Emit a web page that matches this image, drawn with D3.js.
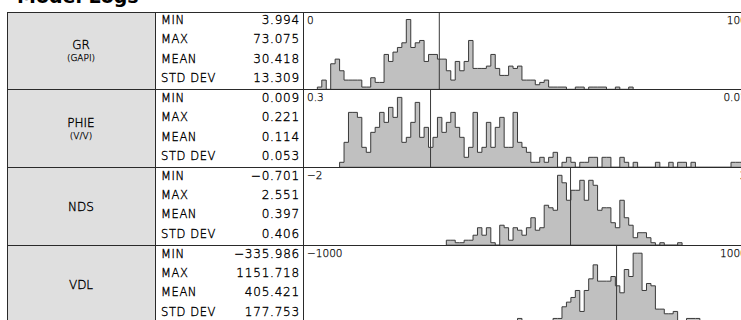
<!DOCTYPE html>
<html>
<head>
<meta charset="utf-8">
<script src="https://cdn.jsdelivr.net/npm/d3@7"></script>
<style>
  html, body { margin: 0; padding: 0; background: #fff; overflow: hidden; }
  svg { display: block; }
  text { font-family: "DejaVu Sans", "Liberation Sans", sans-serif; }
  .thin { font-weight: 200; fill: #000; stroke: #000; stroke-width: 0.35; }
</style>
</head>
<body>
<svg id="chart" width="741" height="320"></svg>
<script>
// ---- log curves and their summary statistics ----
const curveNames = ["GR", "PHIE", "NDS", "VDL"];
const curveUnits = ["(GAPI)", "(V/V)", "", ""];
const statLabels = ["MIN", "MAX", "MEAN", "STD DEV"];
const statMin  = [3.994, 0.009, -0.701, -335.986];
const statMax  = [73.075, 0.221, 2.551, 1151.718];
const statMean = [30.418, 0.114, 0.397, 405.421];
const statStd  = [13.309, 0.053, 0.406, 177.753];

// ---- histogram track scales (100 equal bins across each track) ----
const axisLeft  = [0, 0.3, -2, -1000];
const axisRight = [100, 0.01, 2, 1000];
const axisType  = ["linear", "log", "linear", "linear"];
const leftTickLabels  = ["0", "0.3", "\u22122", "\u22121000"];
const rightTickLabels = ["100", "0.01", "2", "1000"];
const binTotal = 100;

// bin counts; each list begins at the given bin index
const grBinStart = 3;
const grCounts = [1, 4, 0, 11, 13, 8, 4, 4, 4, 4, 1, 1, 5, 3, 3, 15, 12, 16, 18, 20,
  30, 18, 20, 21, 12, 15, 15, 13, 13, 8, 4, 12, 8, 12, 21, 9, 9, 9, 10, 15,
  9, 6, 6, 10, 9, 10, 4, 4, 4, 2, 3, 4, 1, 1, 1, 1, 0, 0, 1, 1,
  0, 1, 1, 1, 1, 0, 0, 1, 0, 0, 1];

const phieBinStart = 8;
const phieCounts = [1, 5, 11, 11, 10, 4, 3, 7, 8, 11, 9, 12, 10, 14, 5, 6, 9, 13, 6, 8,
  4, 6, 10, 7, 9, 11, 8, 6, 2, 4, 11, 3, 4, 9, 4, 8, 10, 4, 4, 11,
  5, 4, 3, 1, 1, 2, 1, 2, 3, 0, 1, 2, 1, 0, 1, 1, 2, 2, 0, 2,
  2, 0, 0, 2, 1, 0, 1, 0, 0, 0, 0, 1, 0, 0, 1, 0, 1, 1, 0, 1,
  0, 0, 0, 0, 0, 0, 0, 0, 1, 1, 1];

const ndsBinStart = 32;
const ndsCounts = [2, 2, 1, 1, 2, 2, 4, 7, 4, 7, 1, 0, 8, 7, 2, 7, 6, 4, 7, 11,
  6, 7, 16, 15, 14, 28, 25, 18, 22, 22, 26, 18, 26, 24, 14, 15, 15, 9, 7, 18,
  11, 8, 3, 5, 5, 3, 1, 0, 1, 0, 0, 0, 1];

const vdlBinStart = 48;
const vdlCounts = [2, 1, 1, 1, 1, 1, 1, 1, 2, 2, 7, 9, 11, 14, 5, 14, 19, 25, 18, 18,
  18, 20, 16, 13, 23, 20, 30, 30, 14, 17, 16, 6, 6, 4, 4, 5, 1, 1, 2, 2,
  2, 1];

const binStarts = [grBinStart, phieBinStart, ndsBinStart, vdlBinStart];
const binCounts = [grCounts, phieCounts, ndsCounts, vdlCounts];

// ---- layout ----
const svg = d3.select("#chart");
const tableLeft = 7, labelRight = 155, trackLeft = 304, trackRight = 748.8;
const firstRowTop = 12, rowHeight = 77.9;
const lineColor = "#2a2a2a";
const fmt = d3.format(".3f");

svg.append("text")
  .attr("x", 17).attr("y", 2.5)
  .attr("font-family", "Liberation Sans, Arial, sans-serif")
  .attr("font-weight", "bold").attr("font-size", 19)
  .text("Model Logs");

curveNames.forEach((name, r) => {
  const top = firstRowTop + r * rowHeight;
  const bottom = top + rowHeight;
  const g = svg.append("g");

  // curve-name cell
  g.append("rect")
    .attr("x", tableLeft).attr("y", top)
    .attr("width", labelRight - tableLeft).attr("height", rowHeight)
    .attr("fill", "#dfdfdf");

  const mid = (top + bottom) / 2;
  if (curveUnits[r]) {
    g.append("text").attr("class", "thin").attr("x", 81).attr("y", mid - 2)
      .attr("text-anchor", "middle").attr("font-size", 12)
      .text(name);
    g.append("text").attr("class", "thin").attr("x", 81).attr("y", mid + 10)
      .attr("text-anchor", "middle").attr("font-size", 9)
      .style("stroke-width", 0.25)
      .text(curveUnits[r]);
  } else {
    g.append("text").attr("class", "thin").attr("x", 81).attr("y", mid + 4)
      .attr("text-anchor", "middle").attr("font-size", 12)
      .text(name);
  }

  // statistics cell
  const stats = [statMin[r], statMax[r], statMean[r], statStd[r]];
  statLabels.forEach((lab, k) => {
    const y = top + 12 + k * 19.3;
    g.append("text").attr("class", "thin").attr("x", 161).attr("y", y)
      .attr("font-size", 11.5).attr("letter-spacing", 0.6)
      .text(lab);
    g.append("text").attr("class", "thin").attr("x", 300).attr("y", y)
      .attr("text-anchor", "end").attr("font-size", 12)
      .attr("letter-spacing", 0.8)
      .text(fmt(stats[k]));
  });

  // histogram track
  const x = (axisType[r] === "log" ? d3.scaleLog() : d3.scaleLinear())
    .domain([axisLeft[r], axisRight[r]])
    .range([trackLeft, trackRight]);
  const edge = i => axisType[r] === "log"
    ? Math.exp(Math.log(axisLeft[r]) + (i / binTotal) * (Math.log(axisRight[r]) - Math.log(axisLeft[r])))
    : axisLeft[r] + (i / binTotal) * (axisRight[r] - axisLeft[r]);

  const counts = binCounts[r];
  const start = binStarts[r];
  const baseline = bottom - 0.5;
  const y = d3.scaleLinear()
    .domain([0, d3.max(counts)])
    .range([baseline, top + 7.5]);

  const pts = [[x(edge(start)), baseline]];
  counts.forEach((c, j) => {
    pts.push([x(edge(start + j)), y(c)]);
    pts.push([x(edge(start + j + 1)), y(c)]);
  });
  pts.push([x(edge(start + counts.length)), baseline]);

  g.append("path")
    .attr("d", d3.line()(pts) + "Z")
    .attr("fill", "#c0c0c0")
    .attr("stroke", "#3a3a3a")
    .attr("stroke-width", 1)
    .attr("stroke-linejoin", "miter");

  // mean marker
  g.append("line")
    .attr("x1", x(statMean[r])).attr("x2", x(statMean[r]))
    .attr("y1", top).attr("y2", bottom)
    .attr("stroke", "#3a3a3a").attr("stroke-width", 1);

  // track end labels
  g.append("text").attr("class", "thin").attr("x", 307).attr("y", top + 11.5)
    .attr("font-size", 10.5).style("stroke-width", 0.25)
    .text(leftTickLabels[r]);
  g.append("text").attr("class", "thin").attr("x", trackRight - 2).attr("y", top + 11.5)
    .attr("text-anchor", "end").attr("font-size", 10.5).style("stroke-width", 0.25)
    .text(rightTickLabels[r]);
});

// table grid
const grid = svg.append("g").attr("stroke", lineColor).attr("stroke-width", 1)
  .attr("shape-rendering", "crispEdges");
curveNames.forEach((_, r) => {
  const top = firstRowTop + r * rowHeight;
  grid.append("line").attr("x1", tableLeft).attr("x2", 741)
    .attr("y1", top).attr("y2", top);
});
grid.append("line").attr("x1", tableLeft).attr("x2", tableLeft)
  .attr("y1", firstRowTop).attr("y2", 320);
grid.append("line").attr("x1", labelRight).attr("x2", labelRight)
  .attr("y1", firstRowTop).attr("y2", 320);
grid.append("line").attr("x1", trackLeft - 0.5).attr("x2", trackLeft - 0.5)
  .attr("y1", firstRowTop).attr("y2", 320);
</script>
</body>
</html>
